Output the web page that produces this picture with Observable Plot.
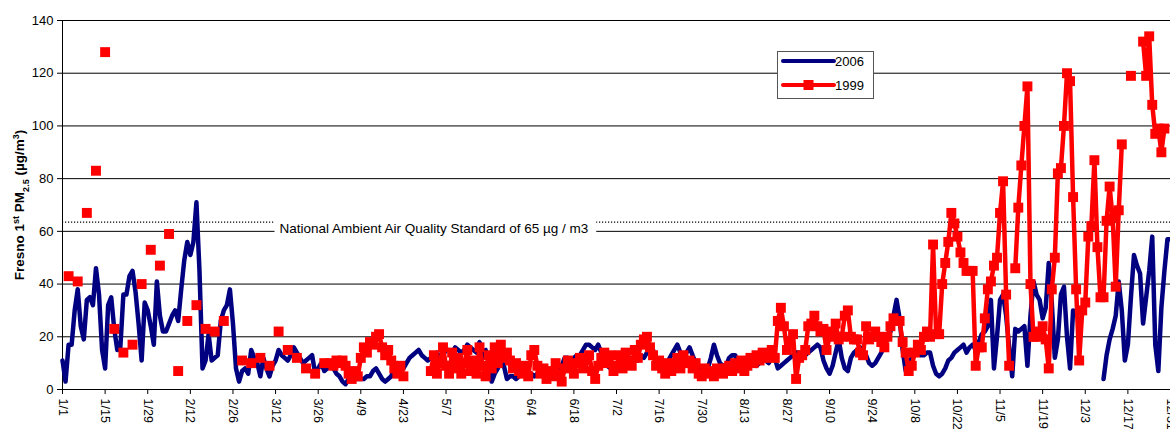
<!DOCTYPE html>
<html>
<head>
<meta charset="utf-8">
<script src="https://cdn.jsdelivr.net/npm/d3@7"></script>
<script src="https://cdn.jsdelivr.net/npm/@observablehq/plot@0.6"></script>
<style>
  html, body { margin: 0; padding: 0; background: #fff; overflow: hidden; }
  #wrap { position: relative; width: 1170px; height: 432px; font-family: "Liberation Sans", Arial, sans-serif; }
  #wrap svg { display: block; }
  #legend { position: absolute; left: 777px; top: 51px; width: 95px; height: 46px; border: 1px solid #555; background: #fff; }
</style>
</head>
<body>
<div id="wrap"><div id="legend"></div></div>
<script>
// ---- tick labels / axes ----
const tickLabels = ["1/1","1/15","1/29","2/12","2/26","3/12","3/26","4/9","4/23","5/7","5/21","6/4","6/18","7/2","7/16","7/30","8/13","8/27","9/10","9/24","10/8","10/22","11/5","11/19","12/3","12/17","12/31"];
const yTicks = [0, 20, 40, 60, 80, 100, 120, 140];
const seriesNames = ["2006", "1999"];
const seriesColors = ["#000080", "#ff0000"];
const standardValue = [63.5];
const standardLabel = ["National Ambient Air Quality Standard of 65 µg / m3"];
const standardLabelPos = [{day: 122, value: 61}];

// ---- daily Fresno PM2.5, index = day of year (0 = Jan 1) ----
const pm2006 = [
11,3,17,17,30,38,24,19,34,35,
32,46,36,15,8,32,35,23,15,16,
36,36,43,45,37,25,11,33,30,24,
17,41,28,22,22,25,28,30,26,38,
49,56,51,56,71,45,8,11,21,11,
12,13,26,30,32,38,25,8,3,7,
8,6,15,12,10,5,12,8,5,9,
11,15,13,12,11,13,16,14,12,10,
11,12,13,6,8,10,7,8,10,8,
6,5,3,2,4,5,4,4,4,4,
5,5,7,8,6,4,3,4,5,8,
10,9,8,10,12,13,14,15,13,12,
11,12,13,14,12,13,15,15,14,16,
15,14,15,17,16,15,14,18,12,15,
10,3,6,8,11,9,4,5,5,4,
5,6,5,5,6,5,6,6,7,6,
7,8,7,6,9,12,12,11,12,13,
13,15,17,17,16,15,17,14,10,9,
8,7,8,10,12,11,9,10,12,11,
13,12,14,15,15,12,10,9,8,11,
13,15,17,14,12,14,16,13,10,8,
7,7,8,12,17,13,10,9,9,12,
13,13,9,7,8,10,12,11,9,10,
12,11,10,12,12,8,9,10,11,12,
13,14,14,13,13,14,15,16,17,16,
11,8,6,9,14,19,12,8,7,12,
14,15,16,14,13,10,9,10,12,14,
17,19,22,28,34,27,15,7,10,12,
13,14,13,13,14,14,9,6,5,6,
8,11,12,14,15,16,17,14,16,17,
15,18,21,22,24,34,8,20,34,36,
28,16,5,23,22,23,24,9,28,41,
36,34,27,31,48,33,12,19,36,39,
20,8,30,null,null,null,null,null,null,null,
null,null,4,13,19,23,28,41,30,11,
17,35,51,47,44,25,35,45,58,17,
7,31,45,57,57
];

const pm1999 = [
null,null,43,null,null,41,null,null,67,null,
null,83,null,null,128,null,null,23,null,null,
14,null,null,17,null,null,40,null,null,53,
null,null,47,null,null,59,null,null,7,null,
null,26,null,null,32,null,null,23,null,null,
22,null,null,26,null,null,null,null,null,11,
null,null,10,null,null,12,null,null,9,null,
null,22,null,null,15,null,null,12,null,null,
8,null,null,6,null,null,10,null,10,9,
11,10,11,9,6,4,7,5,12,16,
14,18,17,20,21,16,13,15,11,8,
6,9,5,null,null,null,null,null,null,null,
null,7,13,6,10,16,9,6,14,8,
12,6,10,15,7,11,6,16,9,5,
13,8,16,10,17,12,14,11,8,10,
7,6,9,5,13,15,9,6,8,4,
7,5,10,6,3,8,11,9,6,10,
12,8,11,13,7,4,9,12,14,10,
13,7,9,13,8,14,11,9,15,12,
17,19,20,16,13,9,11,8,6,10,
7,9,12,8,13,10,11,8,10,6,
5,8,6,7,5,8,7,6,8,9,
7,10,8,11,7,9,12,10,13,11,
14,12,13,15,12,26,31,24,15,18,
21,4,12,13,15,24,25,28,24,22,
23,15,20,22,25,19,20,28,30,20,
19,19,14,13,24,19,20,22,20,18,
16,20,24,27,26,26,18,14,7,9,
14,17,15,20,22,20,55,21,21,40,
48,56,67,63,58,52,48,45,45,45,
9,16,16,27,38,41,47,50,67,79,
36,9,null,46,69,85,100,115,40,20,
20,22,24,19,8,38,50,82,84,100,
120,117,73,38,11,30,33,58,62,87,
54,35,35,64,77,65,39,68,93,null,
null,119,null,null,null,132,119,134,108,97,
99,90,99,null,null
];

// ---- build tables ----
const YEAR = 2006;
const dayDate = i => new Date(Date.UTC(YEAR, 0, 1 + i));
const tickDates = tickLabels.map(s => { const [m, d] = s.split("/").map(Number); return new Date(Date.UTC(YEAR, m - 1, d)); });
const rows2006 = pm2006.map((v, i) => ({date: dayDate(i), value: v}));
const rows1999 = pm1999.map((v, i) => ({date: dayDate(i), value: v}));
const dots1999 = rows1999.filter(d => d.value != null);
const labelRows = standardLabelPos.map((p, i) => ({date: dayDate(p.day), value: p.value, text: standardLabel[i]}));

const chart = Plot.plot({
  width: 1170,
  height: 432,
  marginLeft: 62,
  marginRight: 0,
  marginTop: 20,
  marginBottom: 43,
  style: {fontFamily: "'Liberation Sans', Arial, sans-serif", fontSize: "13px", background: "#fff", color: "#000", overflow: "visible"},
  x: {type: "utc", domain: [tickDates[0], tickDates[tickDates.length - 1]]},
  y: {domain: [0, 140]},
  marks: [
    Plot.ruleY(yTicks, {stroke: "#000", strokeWidth: 1}),
    Plot.ruleX([tickDates[0]], {stroke: "#000", strokeWidth: 1}),
    Plot.ruleY(standardValue, {stroke: "#000", strokeWidth: 1.2, strokeDasharray: "1.2,1.8"}),
    Plot.text(labelRows, {x: "date", y: "value", text: "text", fill: "#000", fontSize: 13.5, textAnchor: "middle"}),
    Plot.axisY({ticks: yTicks, tickSize: 5, tickPadding: 4, label: null, fontSize: 13}),
    Plot.axisX({ticks: tickDates, tickFormat: (d, i) => tickLabels[i], tickRotate: 90, tickSize: 5, tickPadding: 4, label: null, fontSize: 12.5}),
    Plot.line(rows2006, {x: "date", y: "value", stroke: seriesColors[0], strokeWidth: 4.5, strokeLinejoin: "round", strokeLinecap: "round"}),
    Plot.line(rows1999, {x: "date", y: "value", stroke: seriesColors[1], strokeWidth: 4.5, strokeLinejoin: "round", strokeLinecap: "butt"}),
    Plot.dot(dots1999, {x: "date", y: "value", symbol: "square", fill: seriesColors[1], r: 5.6})
  ]
});

const wrap = document.getElementById("wrap");
wrap.insertBefore(chart, wrap.firstChild);

const svg = d3.select(chart);

// white box behind the standard label
svg.selectAll("text").filter(function() { return this.textContent === standardLabel[0]; }).each(function() {
  const bb = this.getBBox();
  const parent = this.parentNode;
  const rect = document.createElementNS("http://www.w3.org/2000/svg", "rect");
  rect.setAttribute("x", bb.x - 5);
  rect.setAttribute("y", bb.y - 2);
  rect.setAttribute("width", bb.width + 13);
  rect.setAttribute("height", bb.height + 5);
  rect.setAttribute("fill", "#fff");
  rect.setAttribute("stroke", "none");
  const tr = this.getAttribute("transform");
  if (tr) rect.setAttribute("transform", tr);
  parent.insertBefore(rect, this);
});

// y-axis title with super/subscripts
const yl = svg.append("text")
  .attr("transform", "translate(24,205) rotate(-90)")
  .attr("text-anchor", "middle")
  .attr("font-weight", "bold")
  .attr("font-size", 13.5)
  .attr("fill", "#000");
yl.append("tspan").text("Fresno 1");
yl.append("tspan").attr("baseline-shift", "super").attr("font-size", 9).text("st");
yl.append("tspan").text(" PM");
yl.append("tspan").attr("baseline-shift", "sub").attr("font-size", 9).text("2.5");
yl.append("tspan").text(" (µg/m");
yl.append("tspan").attr("baseline-shift", "super").attr("font-size", 9).text("3");
yl.append("tspan").text(")");

// legend
const lg = d3.select("#legend").append("svg").attr("width", 95).attr("height", 46)
  .style("font-family", "'Liberation Sans', Arial, sans-serif").style("font-size", "13px");
seriesNames.forEach((name, i) => {
  const y = 9 + i * 24;
  lg.append("line").attr("x1", 5).attr("x2", 56).attr("y1", y).attr("y2", y)
    .attr("stroke", seriesColors[i]).attr("stroke-width", 4).attr("stroke-linecap", "round");
  if (i === 1) {
    lg.append("rect").attr("x", 25.5).attr("y", y - 5).attr("width", 10).attr("height", 10).attr("fill", seriesColors[i]);
  }
  lg.append("text").attr("x", 57).attr("y", y + 5).attr("fill", "#000").text(name);
});
</script>
</body>
</html>
